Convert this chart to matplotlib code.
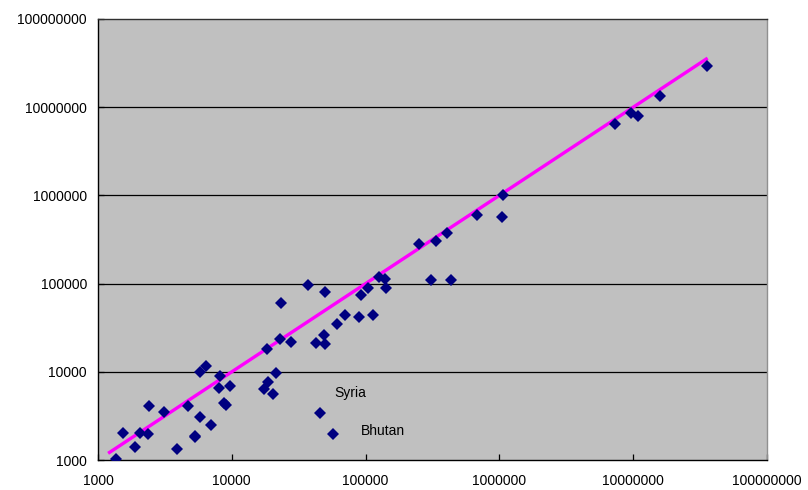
import matplotlib
matplotlib.use("Agg")
import matplotlib.pyplot as plt
import numpy as np

plt.rcParams['font.family'] = ['Liberation Sans', 'DejaVu Sans']

# Data
x_vals = [1363, 1538, 1890, 2061, 2349, 2393, 3097, 3891, 4730, 5280, 5350,
          5754, 5820, 6408, 7030, 8020, 8200, 8790, 9000, 9640,
          17300, 18530, 20420, 21500, 18240, 22800, 27540, 23450, 36900, 50000,
          42560, 48850, 49440, 61100, 70150, 89300, 92900, 103800, 113000,
          126600, 139500, 142700, 310000, 434900, 45600, 57000,
          249400, 334000, 405800, 680000, 1069000, 1045000,
          7.28e6, 9.68e6, 1.087e7, 1.578e7, 3.57e7]
y_vals = [1026, 2010, 1416, 2041, 1954, 4061, 3475, 1322, 4061, 1807, 1870,
          3075, 9955, 11530, 2473, 6607, 8950, 4395, 4205, 6950,
          6430, 7600, 5560, 9770, 17990, 23700, 21900, 59800, 95700, 80900,
          21230, 25970, 20500, 34850, 44100, 42200, 74300, 89900, 44400,
          117800, 112600, 89200, 109900, 109900, 3413, 1985,
          283000, 304000, 375000, 594000, 1019000, 568000,
          6.40e6, 8.66e6, 7.94e6, 1.34e7, 2.93e7]

# Power trend line y = a * x^b
trend_a = 1.0
trend_b = 1.0
trend_x = [1190, 3.6e7]

labels = ["Syria", "Bhutan"]
label_x = [58100, 91800]
label_y = [5760, 2113]

tick_vals = [1e3, 1e4, 1e5, 1e6, 1e7, 1e8]
tick_labels = ["1000", "10000", "100000", "1000000", "10000000", "100000000"]

fig = plt.figure(figsize=(8.08, 4.90), dpi=100)
ax = fig.add_axes([98/808, 30/490, (767-98)/808, (460-19)/490])
ax.set_facecolor('#C0C0C0')
ax.set_xscale('log')
ax.set_yscale('log')
ax.set_xlim(1e3, 1e8)
ax.set_ylim(1e3, 1e8)

for v in tick_vals[1:-1]:
    ax.axhline(v, color='black', lw=0.9, zorder=1)

tx = np.array(trend_x)
ax.plot(tx, trend_a * tx**trend_b, color='#FF00FF', lw=2.4, zorder=2,
        solid_capstyle='butt')
ax.plot(x_vals, y_vals, linestyle='none', marker='D', markersize=5.8,
        color='#000080', markeredgewidth=0, zorder=3)

for t, lx, ly in zip(labels, label_x, label_y):
    ax.text(lx, ly, t, fontsize=10, ha='left', va='center', color='black')

ax.xaxis.set_major_locator(matplotlib.ticker.FixedLocator(tick_vals))
ax.yaxis.set_major_locator(matplotlib.ticker.FixedLocator(tick_vals))
ax.xaxis.set_minor_locator(matplotlib.ticker.NullLocator())
ax.yaxis.set_minor_locator(matplotlib.ticker.NullLocator())
ax.set_xticklabels(tick_labels)
ax.set_yticklabels(tick_labels)
ax.tick_params(axis='both', direction='in', length=4, width=0.9,
               labelsize=10, colors='black')
ax.tick_params(axis='x', pad=10)
ax.tick_params(axis='y', pad=8)

ax.spines['left'].set_color('black')
ax.spines['bottom'].set_color('black')
ax.spines['top'].set_color('#303030')
ax.spines['right'].set_color('#909090')
for s in ax.spines.values():
    s.set_linewidth(1.0)

fig.savefig('out.png', dpi=100, facecolor='white')
